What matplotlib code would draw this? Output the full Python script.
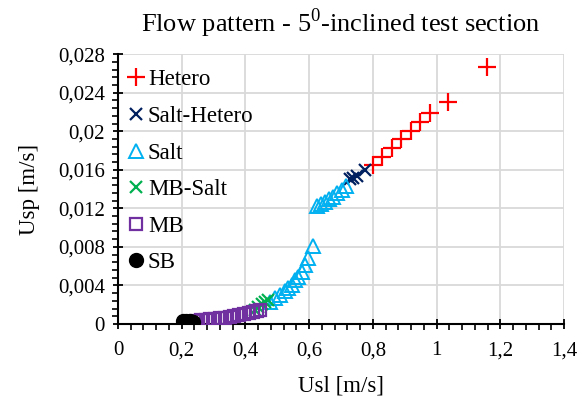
import matplotlib
matplotlib.use("Agg")
import matplotlib.pyplot as plt
from matplotlib.ticker import MultipleLocator, FuncFormatter

# --- datos ---
sb_x = [0.205, 0.215, 0.225, 0.235]
sb_y = [0.00028, 0.00028, 0.00027, 0.00026]

mb_x = [0.245, 0.26, 0.275, 0.29, 0.305, 0.32, 0.335, 0.35, 0.365,
        0.38, 0.395, 0.41, 0.425, 0.435, 0.447]
mb_y = [0.00035, 0.0004, 0.00045, 0.0005, 0.00055, 0.0006, 0.00065, 0.0007,
        0.0008, 0.0009, 0.001, 0.0011, 0.0012, 0.0014, 0.0015]

mbs_x = [0.430, 0.440, 0.451, 0.461, 0.472]
mbs_y = [0.0015, 0.0018, 0.0021, 0.0023, 0.0025]

salt_x = [0.477, 0.493, 0.508, 0.524, 0.535, 0.545, 0.556, 0.566, 0.577,
          0.587, 0.597, 0.613,
          0.624, 0.636, 0.650, 0.663, 0.676, 0.688, 0.702, 0.716]
salt_y = [0.0023, 0.0027, 0.0030, 0.0034, 0.0037, 0.0040, 0.0046, 0.0049,
          0.0054, 0.0061, 0.0068, 0.0081,
          0.0122, 0.0124, 0.0127, 0.0130, 0.0132, 0.0136, 0.0139, 0.0143]

sh_x = [0.728, 0.738, 0.750, 0.775]
sh_y = [0.0150, 0.0152, 0.0154, 0.0160]

het_x = [0.801, 0.830, 0.859, 0.889, 0.918, 0.949, 0.979, 1.036, 1.158]
het_y = [0.01645, 0.01735, 0.01825, 0.01915, 0.02005, 0.02095, 0.02185,
         0.02305, 0.02668]

plt.rcParams["font.family"] = ["Liberation Serif", "DejaVu Serif"]
plt.rcParams["mathtext.fontset"] = "custom"
plt.rcParams["mathtext.rm"] = "Liberation Serif"

fig = plt.figure(figsize=(5.87, 4.01), dpi=100)
ax = fig.add_axes([0.201, 0.192, 0.76, 0.673])

ax.plot(het_x, het_y, ls="none", marker="+", ms=13, mew=1.6,
        color="#FF0000", label="Hetero", zorder=3)
ax.plot(sh_x, sh_y, ls="none", marker="x", ms=9, mew=1.6,
        color="#002060", label="Salt-Hetero", zorder=3)
ax.plot(salt_x, salt_y, ls="none", marker="^", ms=10, mew=1.4,
        mfc="none", color="#00B0F0", label="Salt", zorder=3)
ax.plot(mbs_x, mbs_y, ls="none", marker="x", ms=9, mew=1.6,
        color="#00B050", label="MB-Salt", zorder=3)
ax.plot(mb_x, mb_y, ls="none", marker="s", ms=9, mew=1.6,
        mfc="none", color="#7030A0", label="MB", zorder=3)
ax.plot(sb_x, sb_y, ls="none", marker="o", ms=10,
        color="#000000", label="SB", zorder=3)

ax.set_xlim(0, 1.4)
ax.set_ylim(0, 0.028)
ax.xaxis.set_major_locator(MultipleLocator(0.2))
ax.xaxis.set_minor_locator(MultipleLocator(0.04))
ax.yaxis.set_major_locator(MultipleLocator(0.004))
ax.yaxis.set_minor_locator(MultipleLocator(0.0008))
fmt = FuncFormatter(lambda v, p: f"{round(v, 6):g}".replace(".", ","))
ax.xaxis.set_major_formatter(fmt)
ax.yaxis.set_major_formatter(fmt)
ax.tick_params(which="major", direction="inout", length=7, width=1.3,
               labelsize=15)
ax.tick_params(axis="x", which="major", pad=9)
ax.tick_params(axis="y", which="major", pad=6)
ax.tick_params(which="minor", direction="out", length=4, width=1.2)

ax.grid(True, which="major", color="#D9D9D9", lw=1.3, zorder=0)
ax.set_axisbelow(True)
for s in ["top", "right"]:
    ax.spines[s].set_visible(False)
for s in ["left", "bottom"]:
    ax.spines[s].set_linewidth(1.5)

ax.set_xlabel("Usl [m/s]", fontsize=16.5, labelpad=11)
ax.set_ylabel("Usp [m/s]", fontsize=16.5, labelpad=13)
ax.set_title(r"Flow pattern - 5$^\mathregular{0}$-inclined test section",
             fontsize=19, pad=16)

ax.legend(loc="upper left", bbox_to_anchor=(-0.01, 0.995), frameon=False,
          fontsize=16.5, handlelength=0.8, handletextpad=0.1,
          labelspacing=0.68, borderaxespad=0.2)

fig.savefig("out.png", dpi=100)
